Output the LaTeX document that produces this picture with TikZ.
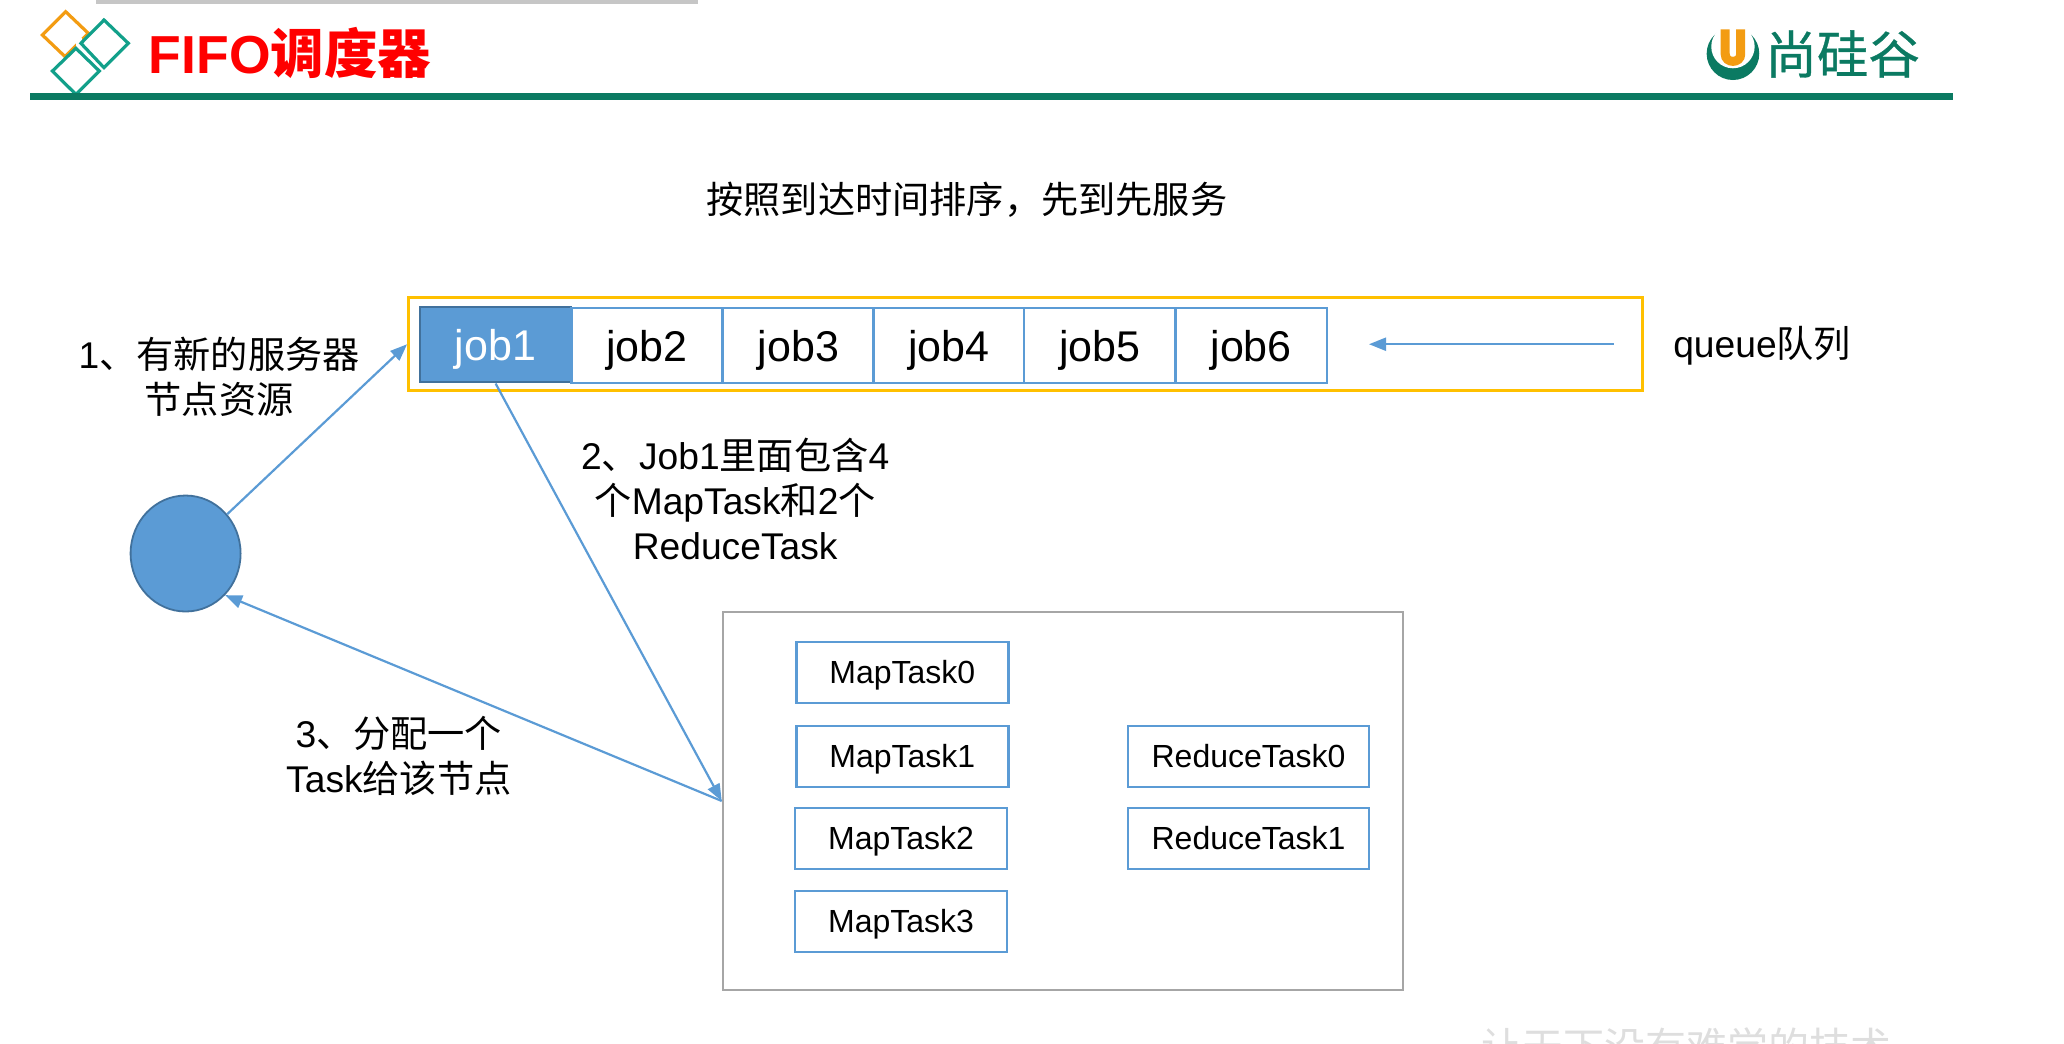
\documentclass[tikz,border=0pt]{standalone}
\usepackage{fontspec}
\setmainfont{Liberation Sans}
\newfontfamily\cjk{Noto Sans CJK SC}
\newfontfamily\cjklogo[FakeBold=0.6]{Noto Sans CJK SC}
\newcommand{\C}[1]{{\cjk #1}}
\usetikzlibrary{arrows.meta,shapes.geometric}
\definecolor{blueA}{HTML}{5B9BD5}
\definecolor{blueB}{HTML}{41719C}
\definecolor{goldA}{HTML}{FFC000}
\definecolor{greyA}{HTML}{A6A6A6}
\definecolor{greenA}{HTML}{0B7A62}
\definecolor{tealA}{HTML}{12A08A}
\definecolor{orangeA}{HTML}{F39C12}
\tikzset{
  x=1.31633pt,y=-1.31633pt,
  jobbox/.style={draw=blueA,line width=2.2pt,fill=white,minimum width=151pt,minimum height=75pt,inner sep=0pt,text height=41pt,text depth=9pt,font=\fontsize{43}{43}\selectfont},
  taskbox/.style={draw=blueA,line width=2.4pt,fill=white,minimum height=61pt,inner sep=0pt,text height=28.3pt,text depth=6.7pt,font=\fontsize{32}{32}\selectfont},
  lab/.style={align=center,inner sep=0pt,font=\fontsize{37.2}{45}\selectfont},
  conn/.style={draw=blueA,line width=2.2pt,-{Triangle[length=17pt,width=13pt]}}
}
\begin{document}
\begin{tikzpicture}
\useasboundingbox (0,0) rectangle (1568,793);
\clip (0,0) rectangle (1568,793);
% header
\fill[gray!45] (73,0) rectangle (530,3);
\draw[orangeA,line width=3.2pt] (49.9,8.9) -- (67.1,25.3) -- (49.4,43) -- (32.2,26.6) -- cycle;
\draw[white,line width=6pt] (60,29) -- (60,37);
\draw[tealA,line width=3.2pt] (79,15.2) -- (97.5,32.9) -- (79,51.4) -- (61.5,32.9) -- cycle;
\draw[tealA,line width=3.2pt] (57.7,36.7) -- (75.5,54) -- (57.7,71.7) -- (39.8,54) -- cycle;
\fill[greenA] (23,71) rectangle (1484,76);
\node[anchor=west,inner sep=0pt,text=red,font=\fontsize{53.5}{53.5}\selectfont\bfseries] (title) at (113,40) {FIFO{\cjk\bfseries 调度器}};
% logo
\fill[greenA] (1316.5,40.8) circle [radius=26.3pt];
\fill[white] (1316.5,35.4) circle [radius=21.7pt];
\draw[orangeA,line width=9pt] (1310.6,22.3) -- (1310.6,41) .. controls (1310.6,48.5) and (1322.4,48.5) .. (1322.4,41) -- (1322.4,22.3);
\node[anchor=west,inner sep=0pt,text=greenA,font=\fontsize{51.5}{51.5}\selectfont] (logotext) at (1341,41) {\cjklogo 尚硅谷};
% watermark
\node[anchor=west,inner sep=0pt,text=black!13,font=\fontsize{41}{41}\selectfont] (mark) at (1125,795) {\cjk 让天下没有难学的技术};
% heading
\node[lab] (heading) at (734.5,152) {\C{按照到达时间排序，先到先服务}};
% queue
\node[draw=goldA,line width=2.6pt,minimum width=1234pt,minimum height=93pt,inner sep=0pt] (queue) at (779,261.5) {};
\node[jobbox,draw=blueB,fill=blueA,text=white] (job1) at (376.5,262) {job1};
\node[jobbox] (job2) at (491.5,262.5) {job2};
\node[jobbox] (job3) at (606.5,262.5) {job3};
\node[jobbox] (job4) at (721,262.5) {job4};
\node[jobbox] (job5) at (835.5,262.5) {job5};
\node[jobbox] (job6) at (950.5,262.5) {job6};
\coordinate (qa) at (1226,261.5);
\coordinate (qb) at (1040,261.5);
\draw[conn] (qa) -- (qb);
\node[lab,anchor=west] (qlabel) at (1271,263) {queue\C{队列}};
% node circle
\node[draw=blueB,line width=1.8pt,fill=blueA,ellipse,minimum width=110pt,minimum height=116pt,inner sep=0pt] (srv) at (141,420.5) {};
\node[lab] (l1) at (166.5,286.5) {1\C{、有新的服务器}\\\C{节点资源}};
\node[lab] (l2) at (558.5,379) {2\C{、}Job1\C{里面包含}4\\\C{个}MapTask\C{和}2\C{个}\\ReduceTask};
\node[lab] (l3) at (303,574) {3\C{、分配一个}\\Task\C{给该节点}};
% tasks
\node[draw=greyA,line width=2.4pt,minimum width=680pt,minimum height=378pt,inner sep=0pt] (tasks) at (807.5,608.5) {};
\node[taskbox,minimum width=212pt] (m0) at (685.5,511) {MapTask0};
\node[taskbox,minimum width=212pt] (m1) at (685.5,574.5) {MapTask1};
\node[taskbox,minimum width=212pt] (m2) at (684.5,637) {MapTask2};
\node[taskbox,minimum width=212pt] (m3) at (684.5,700) {MapTask3};
\node[taskbox,minimum width=241pt] (r0) at (948.5,574.5) {ReduceTask0};
\node[taskbox,minimum width=241pt] (r1) at (948.5,637) {ReduceTask1};
% connectors
\draw[conn] (srv) -- (queue.west);
\draw[conn] (job1.south) -- (tasks.west);
\draw[conn] (tasks.west) -- (srv.south east);
\end{tikzpicture}
\end{document}
